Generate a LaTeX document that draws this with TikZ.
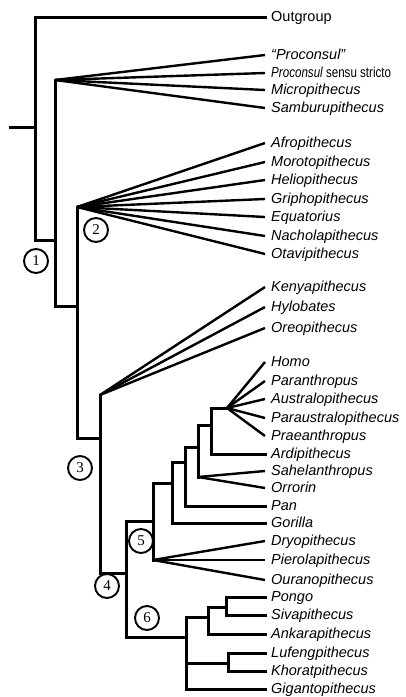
\documentclass[tikz,border=0pt]{standalone}
\usepackage{fontspec}
\setmainfont{Liberation Sans}
\newfontfamily\numfont{Liberation Serif}
\usetikzlibrary{positioning}
\tikzset{
	taxon/.style={anchor=west, inner xsep=6pt, inner ysep=0pt, text height=11pt, text depth=2pt, font=\fontsize{14.5}{16}\selectfont\itshape},
	branch/.style={line width=3pt, line cap=rect},
	fanline/.style={line width=2.4pt},
	clade/.style={draw, circle, line width=1.9pt, minimum size=24pt, inner sep=0pt, fill=white, font=\numfont\fontsize{15}{16}\selectfont}
}

\begin{document}
\begin{tikzpicture}[x=1pt, y=-1pt]
	\useasboundingbox (0,0) rectangle (406,697);

	% taxa
	\node[taxon, font=\fontsize{14.5}{16}\selectfont\upshape] (outgroup) at (265, 17) {Outgroup};
	\node[taxon] (proconsulQ) at (265, 55) {“Proconsul”};
	\node[taxon] (proconsulSS) at (265, 73) {\scalebox{0.8}[1]{Proconsul \upshape sensu stricto}};
	\node[taxon] (micropithecus) at (265, 90) {Micropithecus};
	\node[taxon] (samburupithecus) at (265, 108) {Samburupithecus};

	\node[taxon] (afropithecus) at (265, 143) {Afropithecus};
	\node[taxon] (morotopithecus) at (265, 162) {Morotopithecus};
	\node[taxon] (heliopithecus) at (265, 180) {Heliopithecus};
	\node[taxon] (griphopithecus) at (265, 199) {Griphopithecus};
	\node[taxon] (equatorius) at (265, 217) {Equatorius};
	\node[taxon] (nacholapithecus) at (265, 236) {Nacholapithecus};
	\node[taxon] (otavipithecus) at (265, 254) {Otavipithecus};

	\node[taxon] (kenyapithecus) at (265, 287) {Kenyapithecus};
	\node[taxon] (hylobates) at (265, 307) {Hylobates};
	\node[taxon] (oreopithecus) at (265, 328) {Oreopithecus};

	\node[taxon] (homo) at (265, 362) {Homo};
	\node[taxon] (paranthropus) at (265, 381) {Paranthropus};
	\node[taxon] (australopithecus) at (265, 399) {Australopithecus};
	\node[taxon] (paraustralopithecus) at (265, 418) {Paraustralopithecus};
	\node[taxon] (praeanthropus) at (265, 436) {Praeanthropus};
	\node[taxon] (ardipithecus) at (265, 454) {Ardipithecus};
	\node[taxon] (sahelanthropus) at (265, 471) {Sahelanthropus};
	\node[taxon] (orrorin) at (265, 488) {Orrorin};
	\node[taxon] (pan) at (265, 506) {Pan};
	\node[taxon] (gorilla) at (265, 523) {Gorilla};
	\node[taxon] (dryopithecus) at (265, 541) {Dryopithecus};
	\node[taxon] (pierolapithecus) at (265, 560) {Pierolapithecus};
	\node[taxon] (ouranopithecus) at (265, 580) {Ouranopithecus};
	\node[taxon] (pongo) at (265, 597) {Pongo};
	\node[taxon] (sivapithecus) at (265, 615) {Sivapithecus};
	\node[taxon] (ankarapithecus) at (265, 634) {Ankarapithecus};
	\node[taxon] (lufengpithecus) at (265, 653) {Lufengpithecus};
	\node[taxon] (khoratpithecus) at (265, 671) {Khoratpithecus};
	\node[taxon] (gigantopithecus) at (265, 689) {Gigantopithecus};

	% internal points
	\coordinate (root) at (10, 127);
	\coordinate (a) at (35, 240);
	\coordinate (fanA) at (55, 80);
	\coordinate (b) at (55, 306);
	\coordinate (fanB) at (77, 207);
	\coordinate (c) at (77, 438);
	\coordinate (fanC) at (100, 395);
	\coordinate (d) at (100, 573);
	\coordinate (f) at (126, 521);
	\coordinate (e) at (126, 637);
	\coordinate (fanD) at (153, 560);
	\coordinate (g) at (153, 483);
	\coordinate (hG) at (172, 462);
	\coordinate (hP) at (185, 447);
	\coordinate (hS) at (198, 425);
	\coordinate (fanSO) at (198, 477);
	\coordinate (hA) at (211, 408);
	\coordinate (fanH) at (227, 408);
	\coordinate (pA) at (186, 617);
	\coordinate (pB) at (208, 607);
	\coordinate (pC) at (226, 607);
	\coordinate (pD) at (228, 663);

	% backbone
	\draw[branch] (root) -- (root -| a);
	\draw[branch] (outgroup.west) -| (a) -- (a -| fanA);
	\draw[branch] (fanA) -- (b) -| (c);
	\draw[branch] (fanB) -- (c) -| (d);
	\draw[branch] (fanC) -- (d) -- (d -| e);
	\draw[branch] (fanD) |- (f) -- (e) -- (e -| pA);
	\draw[branch] (g) -- (fanD);
	\draw[branch] (g) -- (g -| hG);

	% hominines
	\draw[branch] (gorilla.west) -| (hG) -| (hP);
	\draw[branch] (pan.west) -| (hP) -| (hS);
	\draw[branch] (fanSO) -- (hS) -| (hA);
	\draw[branch] (ardipithecus.west) -| (hA) -- (fanH);

	% pongines
	\draw[branch] (gigantopithecus.west) -| (pA) -| (pB);
	\draw[branch] (ankarapithecus.west) -| (pB) -- (pC);
	\draw[branch] (pongo.west) -| (pC) |- (sivapithecus.west);
	\draw[branch] (lufengpithecus.west) -| (pD) |- (khoratpithecus.west);
	\draw[branch] (pD) -- (pD -| pA);

	% fans
	\draw[fanline] (fanA) -- (proconsulQ.west);
	\draw[fanline] (fanA) -- (proconsulSS.west);
	\draw[fanline] (fanA) -- (micropithecus.west);
	\draw[fanline] (fanA) -- (samburupithecus.west);
	\draw[fanline] (fanB) -- (afropithecus.west);
	\draw[fanline] (fanB) -- (morotopithecus.west);
	\draw[fanline] (fanB) -- (heliopithecus.west);
	\draw[fanline] (fanB) -- (griphopithecus.west);
	\draw[fanline] (fanB) -- (equatorius.west);
	\draw[fanline] (fanB) -- (nacholapithecus.west);
	\draw[fanline] (fanB) -- (otavipithecus.west);
	\draw[fanline] (fanC) -- (kenyapithecus.west);
	\draw[fanline] (fanC) -- (hylobates.west);
	\draw[fanline] (fanC) -- (oreopithecus.west);
	\draw[fanline] (fanH) -- (homo.west);
	\draw[fanline] (fanH) -- (paranthropus.west);
	\draw[fanline] (fanH) -- (australopithecus.west);
	\draw[fanline] (fanH) -- (paraustralopithecus.west);
	\draw[fanline] (fanH) -- (praeanthropus.west);
	\draw[fanline] (fanSO) -- (sahelanthropus.west);
	\draw[fanline] (fanSO) -- (orrorin.west);
	\draw[fanline] (fanD) -- (dryopithecus.west);
	\draw[fanline] (fanD) -- (pierolapithecus.west);
	\draw[fanline] (fanD) -- (ouranopithecus.west);

	% clade numbers
	\node[clade] (c1) at (36, 261) {1};
	\node[clade] (c2) at (96, 230) {2};
	\node[clade] (c3) at (80, 468) {3};
	\node[clade] (c4) at (107, 586) {4};
	\node[clade] (c5) at (141, 541) {5};
	\node[clade] (c6) at (147, 618) {6};
\end{tikzpicture}
\end{document}
